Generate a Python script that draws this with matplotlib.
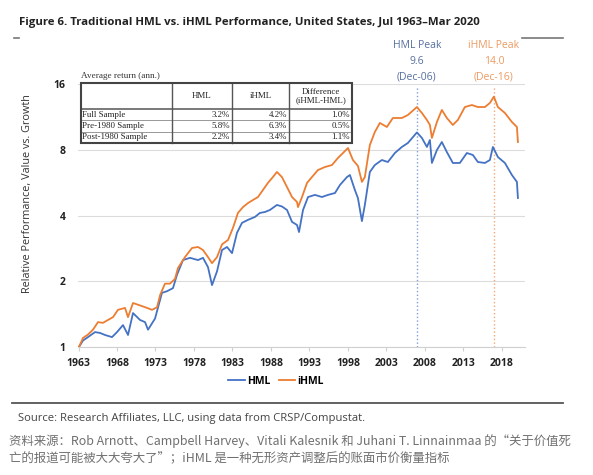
import matplotlib.pyplot as plt
from matplotlib.ticker import FixedLocator, NullLocator

plt.rcParams['font.family'] = ['Open Sans', 'Noto Sans CJK SC', 'DejaVu Sans']

# cumulative value vs. growth
hml_years = [1963.06, 1963.58, 1964.23, 1965.14, 1965.79, 1966.44, 1967.35, 1968.00, 1968.78, 1969.43,
             1970.08, 1970.99, 1971.64, 1972.03, 1972.94, 1973.84, 1974.49, 1975.27, 1975.79, 1976.57,
             1977.48, 1978.52, 1979.17, 1979.82, 1980.34, 1980.99, 1981.64, 1982.29, 1982.94, 1983.58,
             1984.23, 1985.01, 1985.92, 1986.56, 1987.21, 1987.86, 1988.77, 1989.42, 1990.08, 1990.73,
             1991.38, 1991.64, 1992.16, 1992.81, 1993.71, 1994.62, 1995.40, 1996.31, 1996.96, 1997.87,
             1998.25, 1998.90, 1999.29, 1999.81, 2000.19, 2000.84, 2001.49, 2002.40, 2003.18, 2004.09,
             2005.00, 2005.78, 2006.95, 2007.60, 2008.25, 2008.64, 2008.90, 2009.55, 2010.19, 2010.84,
             2011.62, 2012.53, 2013.44, 2014.22, 2014.87, 2015.78, 2016.43, 2016.82, 2017.47, 2018.38,
             2019.29, 2019.94, 2020.07]
hml = [1.00, 1.07, 1.11, 1.17, 1.16, 1.135, 1.11, 1.17, 1.26, 1.135,
       1.43, 1.33, 1.30, 1.20, 1.35, 1.77, 1.80, 1.86, 2.14, 2.50,
       2.56, 2.50, 2.56, 2.32, 1.92, 2.22, 2.78, 2.87, 2.69, 3.33,
       3.70, 3.82, 3.94, 4.11, 4.15, 4.24, 4.47, 4.40, 4.24, 3.74,
       3.62, 3.36, 4.24, 4.86, 4.97, 4.86, 4.97, 5.07, 5.52, 6.00,
       6.13, 5.23, 4.81, 3.77, 4.47, 6.33, 6.81, 7.18, 7.03, 7.73,
       8.24, 8.59, 9.60, 9.06, 8.24, 8.87, 6.96, 7.98, 8.68, 7.81,
       6.96, 6.96, 7.73, 7.57, 7.03, 6.96, 7.18, 8.24, 7.41, 6.96,
       6.13, 5.70, 4.81]

ihml_years = [1963.06, 1963.58, 1964.23, 1964.88, 1965.53, 1966.18, 1966.83, 1967.48, 1968.13, 1969.04,
              1969.43, 1970.08, 1970.99, 1971.90, 1972.55, 1973.20, 1973.60, 1974.23, 1974.88, 1975.53,
              1975.92, 1976.83, 1977.74, 1978.52, 1979.17, 1979.82, 1980.34, 1980.99, 1981.64, 1982.42,
              1983.06, 1983.71, 1984.36, 1985.01, 1985.66, 1986.31, 1986.95, 1987.60, 1988.25, 1988.77,
              1989.42, 1990.08, 1990.73, 1991.38, 1991.51, 1992.03, 1992.68, 1993.32, 1994.10, 1995.01,
              1995.92, 1996.70, 1997.35, 1998.00, 1998.64, 1999.29, 1999.81, 2000.19, 2000.84, 2001.49,
              2002.14, 2003.05, 2003.83, 2005.00, 2005.78, 2006.95, 2007.60, 2008.25, 2008.64, 2008.90,
              2009.55, 2010.19, 2010.84, 2011.62, 2012.27, 2013.18, 2014.09, 2014.87, 2015.78, 2016.43,
              2016.95, 2017.47, 2018.38, 2019.29, 2019.94, 2020.07]
ihml = [1.00, 1.10, 1.14, 1.20, 1.30, 1.29, 1.33, 1.37, 1.48, 1.51,
        1.37, 1.59, 1.55, 1.51, 1.48, 1.52, 1.73, 1.95, 1.95, 2.05,
        2.30, 2.58, 2.84, 2.87, 2.78, 2.58, 2.42, 2.58, 2.95, 3.09,
        3.51, 4.11, 4.37, 4.56, 4.71, 4.86, 5.23, 5.64, 6.00, 6.33,
        6.00, 5.40, 4.86, 4.61, 4.37, 4.86, 5.64, 6.00, 6.46, 6.67,
        6.81, 7.34, 7.73, 8.15, 7.18, 6.75, 5.70, 6.00, 8.41, 9.65,
        10.61, 10.17, 11.18, 11.18, 11.54, 12.55, 11.79, 10.95, 10.39, 9.06,
        10.72, 12.17, 11.18, 10.39, 10.95, 12.55, 12.82, 12.55, 12.55, 13.10,
        14.00, 12.55, 11.79, 10.72, 10.17, 8.68]

hml_peak = (2006.95, '9.6', '(Dec-06)')
ihml_peak = (2016.95, '14.0', '(Dec-16)')

year_ticks = [1963, 1968, 1973, 1978, 1983, 1988, 1993, 1998, 2003, 2008, 2013, 2018]
y_ticks = [1, 2, 4, 8, 16]

# summary table
table_cols = ['HML', 'iHML', 'Difference\n(iHML-HML)']
table_rows = ['Full Sample', 'Pre-1980 Sample', 'Post-1980 Sample']
table_hml = ['3.2%', '5.8%', '2.2%']
table_ihml = ['4.2%', '6.3%', '3.4%']
table_diff = ['1.0%', '0.5%', '1.1%']

blue = '#4472C4'
orange = '#ED7D31'
W, H = 593, 475

fig = plt.figure(figsize=(W / 100, H / 100), dpi=100)

# main chart, placed by pixel box
L, R, T, B = 78, 525, 84, 347
ax = fig.add_axes([L / W, (H - B) / H, (R - L) / W, (B - T) / H])
ax.set_yscale('log', base=2)
ax.plot(hml_years, hml, color=blue, lw=1.3, label='HML', zorder=3)
ax.plot(ihml_years, ihml, color=orange, lw=1.3, label='iHML', zorder=3)
ax.set_xlim(1962.935, 2020.99)
ax.set_ylim(1, 16)
ax.yaxis.set_major_locator(FixedLocator(y_ticks))
ax.yaxis.set_minor_locator(NullLocator())
ax.set_yticklabels([str(v) for v in y_ticks], fontweight='bold', fontsize=7.5, color='#222222')
ax.set_xticks(year_ticks)
ax.set_xticklabels([str(y) for y in year_ticks], fontweight='bold', fontsize=7.5, color='#222222')
ax.tick_params(axis='y', length=0, pad=9)
ax.tick_params(axis='x', length=3, color='#d0d0d0', pad=5)
ax.grid(axis='y', color='#dcdcdc', lw=0.8)
for s in ['top', 'right', 'left']:
    ax.spines[s].set_visible(False)
ax.spines['bottom'].set_color('#d0d0d0')
ax.set_ylabel('Relative Performance, Value vs. Growth', fontsize=7.8, color='#333333')
ax.yaxis.set_label_coords(-0.1, 0.585)

# peak markers
ax.axvline(hml_peak[0], ymax=0.99, color='#7f9fd6', ls=':', lw=1)
ax.axvline(ihml_peak[0], ymax=0.99, color='#f2a877', ls=':', lw=1)
tr = ax.get_xaxis_transform()
for (yr, val, date), name, col in [(hml_peak, 'HML Peak', '#56709f'), (ihml_peak, 'iHML Peak', '#ec9a62')]:
    ax.text(yr, 1.148, name, transform=tr, ha='center', va='center', fontsize=7.5, color=col, clip_on=False)
    ax.text(yr, 1.087, val, transform=tr, ha='center', va='center', fontsize=7.5, color=col, clip_on=False)
    ax.text(yr, 1.027, date, transform=tr, ha='center', va='center', fontsize=7.5, color=col, clip_on=False)

ax.legend(loc='center', bbox_to_anchor=(276 / W, (H - 381) / H), bbox_transform=fig.transFigure,
          ncol=2, frameon=False, handlelength=1.6, handletextpad=0.2, columnspacing=0.8,
          prop={'weight': 'bold', 'size': 7.5})

# overlay in pixel coordinates for title, table and notes
ov = fig.add_axes([0, 0, 1, 1])
ov.set_xlim(0, W)
ov.set_ylim(H, 0)
ov.axis('off')

ov.text(19, 22, 'Figure 6. Traditional HML vs. iHML Performance, United States, Jul 1963\u2013Mar 2020',
        fontsize=8.2, fontweight='bold', va='center', ha='left', color='#222222')
ov.plot([14, 19], [38, 38], color='#777777', lw=1.2)
ov.plot([522, 563], [38, 38], color='#777777', lw=1.2)

# table
cx = [81, 172, 232, 289, 352]
ry = [83, 109, 120.3, 131.7, 143]
serif = 'Liberation Serif'
ov.add_patch(plt.Rectangle((cx[0], ry[0]), cx[-1] - cx[0], ry[-1] - ry[0], facecolor='white',
                           edgecolor='none', zorder=4))
ov.text(cx[0], 76, 'Average return (ann.)', fontsize=6.6, family=serif, va='center', ha='left', color='#333333')
for yy in ry[2:-1]:
    ov.plot([cx[0], cx[-1]], [yy, yy], color='#888888', lw=0.6, zorder=5)
ov.plot([cx[0], cx[-1]], [ry[1], ry[1]], color='#555555', lw=1.1, zorder=5)
for xx in cx[1:-1]:
    ov.plot([xx, xx], [ry[0], ry[-1]], color='#555555', lw=1.0, zorder=5)
ov.add_patch(plt.Rectangle((cx[0], ry[0]), cx[-1] - cx[0], ry[-1] - ry[0], facecolor='none',
                           edgecolor='#444444', lw=1.5, zorder=6))
for j, c in enumerate(table_cols):
    ov.text((cx[j + 1] + cx[j + 2]) / 2, (ry[0] + ry[1]) / 2, c, fontsize=6.4, family=serif,
            ha='center', va='center', color='#222222', linespacing=1.1, zorder=7)
for i, name in enumerate(table_rows):
    ymid = (ry[i + 1] + ry[i + 2]) / 2
    ov.text(cx[0] + 1.5, ymid, name, fontsize=6.4, family=serif, ha='left', va='center', color='#222222', zorder=7)
    for j, v in enumerate([table_hml[i], table_ihml[i], table_diff[i]]):
        ov.text(cx[j + 2] - 2, ymid, v, fontsize=6.4, family=serif, ha='right', va='center',
                color='#222222', zorder=7)

# source and notes
ov.plot([12, 563], [403, 403], color='#555555', lw=1.3)
ov.text(18, 418, 'Source: Research Affiliates, LLC, using data from CRSP/Compustat.',
        fontsize=8.1, va='center', ha='left', color='#444444')
cjk = ['Noto Sans CJK SC', 'DejaVu Sans']
ov.text(9, 441, '资料来源：Rob Arnott、Campbell Harvey、Vitali Kalesnik 和 Juhani T. Linnainmaa 的“关于价值死',
        fontsize=8.95, family=cjk, va='center', ha='left', color='#707070')
ov.text(9, 459, '亡的报道可能被大大夸大了”；iHML 是一种无形资产调整后的账面市价衡量指标',
        fontsize=8.95, family=cjk, va='center', ha='left', color='#707070')

fig.savefig('out.png', dpi=100)
